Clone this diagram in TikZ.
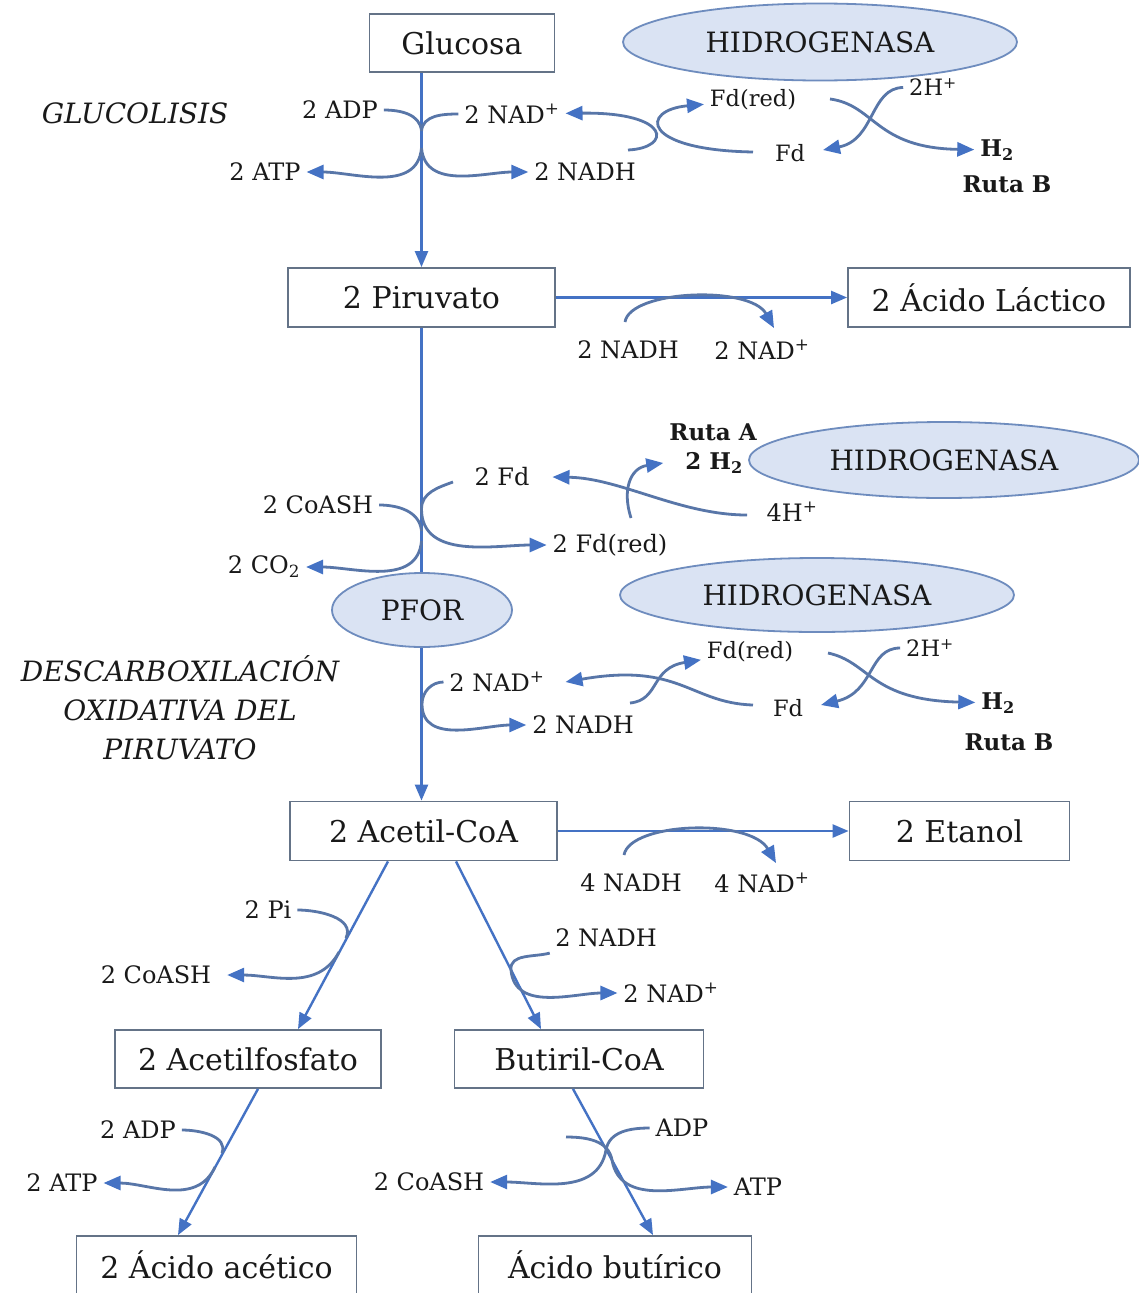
\documentclass[tikz,border=0pt]{standalone}
\usepackage{fontspec}
\setmainfont{DejaVu Serif}
\usetikzlibrary{arrows.meta,shapes.geometric}
\definecolor{linecol}{RGB}{68,114,196}
\definecolor{curvecol}{RGB}{88,118,168}
\definecolor{boxcol}{RGB}{100,115,135}
\definecolor{ellfill}{RGB}{218,227,243}
\definecolor{elldraw}{RGB}{110,140,190}
\definecolor{txt}{RGB}{25,25,25}
\newcommand{\fsBig}{\fontsize{30}{36}\selectfont}
\newcommand{\fsSmall}{\fontsize{24}{29}\selectfont}
\newcommand{\fsFd}{\fontsize{22.5}{27}\selectfont}
\newcommand{\fsBold}{\fontsize{23}{28}\selectfont\bfseries}
\newcommand{\fsIt}{\fontsize{28}{39}\selectfont\itshape}
\newcommand{\fsEll}{\fontsize{28}{34}\selectfont}
\begin{document}
\begin{tikzpicture}[x=1pt,y=-1pt,
  box/.style={draw=boxcol,line width=1.8pt,inner sep=0pt,font=\fsBig,text=txt},
  enz/.style={ellipse,draw=elldraw,line width=1.8pt,fill=ellfill,inner sep=0pt,font=\fsEll,text=txt},
  lbl/.style={inner sep=1pt,outer sep=5pt,font=\fsSmall,text=txt},
  fdl/.style={inner sep=1pt,outer sep=5pt,font=\fsFd,text=txt},
  bl/.style={inner sep=1pt,outer sep=5pt,font=\fsBold,text=txt},
  itl/.style={inner sep=1pt,font=\fsIt,text=txt,align=center},
  main/.style={draw=linecol,line width=2.4pt,-{Triangle[length=16pt,width=13pt]}},
  cof/.style={draw=curvecol,line width=2.8pt},
  cofa/.style={cof,-{Triangle[length=17pt,width=14pt,color=linecol]}},
]
\fill[white] (0,0) rectangle (1138,1293);
\useasboundingbox (0,0) rectangle (1138,1293);

% ---------- boxes ----------
\node[box,minimum width=185pt,minimum height=58pt] (glu) at (462,43) {Glucosa};
\node[box,minimum width=267pt,minimum height=59pt] (pir) at (421.5,297.5) {2 Piruvato};
\node[box,minimum width=282pt,minimum height=59pt] (lac) at (989,297.5) {2 Ácido Láctico};
\node[box,minimum width=267pt,minimum height=59pt] (acc) at (423.5,831) {2 Acetil-CoA};
\node[box,minimum width=220pt,minimum height=59pt] (eta) at (959.5,831) {2 Etanol};
\node[box,minimum width=266pt,minimum height=58pt] (acp) at (248,1059) {2 Acetilfosfato};
\node[box,minimum width=249pt,minimum height=58pt] (but) at (579,1059) {Butiril-CoA};
\node[box,minimum width=280pt,minimum height=58pt] (ace) at (216.5,1265) {2 Ácido acético};
\node[box,minimum width=273pt,minimum height=58pt] (buty) at (615,1265) {Ácido butírico};

% ---------- main arrows ----------
\draw[main] (glu.south -| pir.north) -- (pir.north);
\draw[main] (pir.south) -- (pir.south |- acc.north);
\draw[main] (pir.east) -- (lac.west);
\draw[main] (acc.east) -- (eta.west);
\draw[main] ([xshift=-35.5pt]acc.south) -- ([xshift=50pt]acp.north);
\draw[main] ([xshift=32.5pt]acc.south) -- ([xshift=-38pt]but.north);
\draw[main] ([xshift=10pt]acp.south) -- ([xshift=-38.5pt]ace.north);
\draw[main] ([xshift=-6pt]but.south) -- ([xshift=38pt]buty.north);

% ---------- enzymes ----------
\node[enz,minimum width=394pt,minimum height=77pt] (hyd1) at (820,42) {HIDROGENASA};
\node[enz,minimum width=390pt,minimum height=76pt] (hyd2) at (944,460) {HIDROGENASA};
\node[enz,minimum width=394pt,minimum height=74pt] (hyd3) at (817,595) {HIDROGENASA};
\node[enz,minimum width=180pt,minimum height=74pt] (pfor) at (422,610) {PFOR};

% ---------- glycolysis ----------
\node[itl] (glucol) at (135,113) {GLUCOLISIS};
\node[lbl] (adp1) at (340,110) {2 ADP};
\node[lbl] (nadp1) at (512,114) {2 NAD\textsuperscript{+}};
\node[lbl] (atp1) at (265,172) {2 ATP};
\node[lbl] (nadh1) at (585,172) {2 NADH};
\coordinate (g1) at (421.5,131);
\coordinate (g2) at (421.5,148);
\draw[cof] (adp1) to[out=0,in=95] (g1);
\draw[cof] (nadp1) to[out=180,in=85] (g1);
\draw[cofa] (g2) to[out=-95,in=0] (atp1);
\draw[cofa] (g2) to[out=-85,in=180] (nadh1);

% ---------- top Fd cycle ----------
\node[fdl] (fdr1) at (753,100) {Fd(red)};
\node[fdl] (fd1) at (790,153) {Fd};
\node[fdl] (hp1) at (933,87) {2H\textsuperscript{+}};
\node[bl] (h2a) at (997,150) {H\textsubscript{2}};
\node[bl] (rb1) at (1007,184) {Ruta B};
\coordinate (a1) at (628,150);
\coordinate (a2) at (753,152);
\coordinate (b1) at (830,99);
\draw[cofa] (a1) .. controls (672,148) and (672,112) .. (nadp1);
\draw[cofa] (a2) .. controls (640,150) and (640,110) .. (fdr1);
\draw[cofa] (b1) .. controls (875,105) and (875,148) .. (h2a);
\draw[cofa] (hp1) .. controls (870,88) and (875,140) .. ([xshift=12pt,yshift=3pt]fd1.east);

% ---------- lactate ----------
\node[lbl] (nadh2) at (628,350) {2 NADH};
\node[lbl] (nadp2) at (762,350) {2 NAD\textsuperscript{+}};
\coordinate (c1) at (625,322);
\draw[cofa] (c1) .. controls (630,290) and (750,285) .. ([xshift=12pt,yshift=6pt]nadp2.north);

% ---------- Ruta A ----------
\node[bl] (ra) at (713,432) {Ruta A};
\node[bl] (h2b) at (714,463) {2 H\textsubscript{2}};
\node[lbl] (fd2) at (502,477) {2 Fd};
\node[lbl] (coash1) at (318,505) {2 CoASH};
\node[lbl] (co2) at (264,567) {2 CO\textsubscript{2}};
\node[lbl] (fdr2) at (610,545) {2 Fd(red)};
\node[lbl] (hp2) at (792,512) {4H\textsuperscript{+}};
\coordinate (r1) at (421.5,531);
\coordinate (r2) at (421.5,541);
\coordinate (r3) at (421.5,509);
\coordinate (r4) at (453,482);
\coordinate (r5) at (747,515);
\coordinate (r6) at (631,518);
\draw[cof] (coash1) to[out=0,in=95] (r1);
\draw[cofa] (r2) to[out=-95,in=0] (co2);
\draw[cofa] (r4) to[out=200,in=90] (r3) to[out=-90,in=180] (fdr2);
\draw[cofa] (r5) .. controls (680,515) and (620,478) .. ([xshift=17pt]fd2.east);
\draw[cofa] (r6) .. controls (622,490) and (630,468) .. ([xshift=-16pt]h2b.west);

% ---------- second Fd cycle ----------
\node[itl] (desc) at (180,708) {DESCARBOXILACIÓN\\OXIDATIVA DEL\\PIRUVATO};
\node[lbl] (nadp3) at (497,682) {2 NAD\textsuperscript{+}};
\node[lbl] (nadh3) at (583,725) {2 NADH};
\node[fdl] (fdr3) at (750,652) {Fd(red)};
\node[fdl] (fd3) at (788,708) {Fd};
\node[fdl] (hp3) at (930,648) {2H\textsuperscript{+}};
\node[bl] (h2c) at (998,703) {H\textsubscript{2}};
\node[bl] (rb2) at (1009,742) {Ruta B};
\coordinate (s1) at (422,704);
\coordinate (s2) at (630,703);
\coordinate (s3) at (753,705);
\coordinate (s4) at (828,653);
\draw[cofa] (nadp3) to[out=180,in=90] (s1) to[out=-90,in=180] (nadh3);
\draw[cofa] (s2) .. controls (660,700) and (650,668) .. (fdr3);
\draw[cofa] (s3) .. controls (690,703) and (680,662) .. ([xshift=15pt]nadp3.east);
\draw[cofa] (s4) .. controls (870,662) and (870,700) .. (h2c);
\draw[cofa] (hp3) .. controls (868,648) and (875,692) .. ([xshift=12pt,yshift=3pt]fd3.east);

% ---------- acetil-CoA ----------
\node[lbl] (nadh4) at (631,883) {4 NADH};
\node[lbl] (nadp4) at (762,883) {4 NAD\textsuperscript{+}};
\coordinate (u1) at (624,855);
\draw[cofa] (u1) .. controls (630,822) and (750,818) .. ([xshift=14pt,yshift=4pt]nadp4.north);

\node[lbl] (pi) at (268,910) {2 Pi};
\node[lbl] (coash2) at (156,975) {2 CoASH};
\node[lbl] (nadh5) at (606,938) {2 NADH};
\node[lbl] (nadp5) at (671,993) {2 NAD\textsuperscript{+}};
\coordinate (v1) at (346,938);
\coordinate (v2) at (339,952);
\coordinate (w1) at (511,970);
\draw[cof] (pi) to[out=0,in=65] (v1);
\draw[cofa] (v2) to[out=242,in=0] ([xshift=10pt]coash2.east);
\draw[cofa] (nadh5) to[out=195,in=95] (w1) to[out=-85,in=180] (nadp5);

% ---------- bottom ----------
\node[lbl] (adp2) at (138,1130) {2 ADP};
\node[lbl] (atp2) at (62,1183) {2 ATP};
\coordinate (x1) at (222,1153);
\coordinate (x2) at (215,1167);
\draw[cof] (adp2) to[out=0,in=70] (x1);
\draw[cofa] (x2) to[out=245,in=0] (atp2);

\node[lbl] (adp3) at (682,1128) {ADP};
\node[lbl] (coash3) at (429,1182) {2 CoASH};
\node[lbl] (atp3) at (758,1187) {ATP};
\coordinate (y1) at (606,1150);
\coordinate (y2) at (612,1160);
\coordinate (y3) at (566,1137);
\draw[cofa] (adp3) to[out=180,in=80] (y1) to[out=-100,in=0] (coash3);
\draw[cofa] (y3) to[out=0,in=100] (y2) to[out=-80,in=180] (atp3);
\end{tikzpicture}
\end{document}
